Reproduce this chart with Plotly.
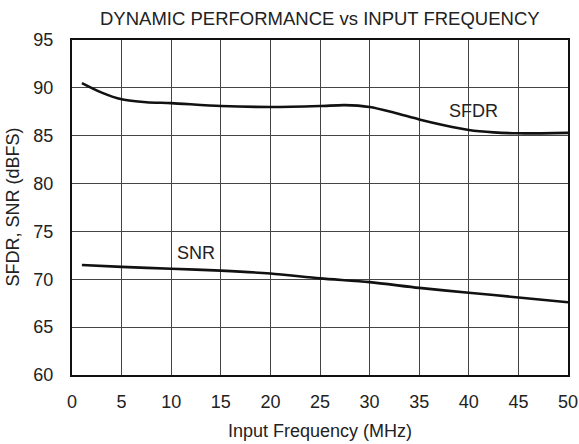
import plotly.graph_objects as go

freq = [1, 3, 5, 7.5, 10, 15, 20, 25, 27.5, 30, 32.5, 35, 37.5, 40, 42.5, 45, 50]
sfdr = [90.5, 89.5, 88.8, 88.5, 88.4, 88.1, 88.0, 88.1, 88.2, 88.0, 87.4, 86.7, 86.1, 85.6, 85.35, 85.25, 85.3]
snr_freq = [1, 5, 10, 15, 20, 25, 30, 35, 40, 45, 50]
snr = [71.5, 71.3, 71.1, 70.9, 70.6, 70.1, 69.7, 69.1, 68.6, 68.1, 67.6]

x_ticks = [0, 5, 10, 15, 20, 25, 30, 35, 40, 45, 50]
y_ticks = [60, 65, 70, 75, 80, 85, 90, 95]

FONT = "Liberation Sans, Arial, sans-serif"
FS = 18

fig = go.Figure()
fig.add_trace(go.Scatter(x=freq, y=sfdr, mode="lines", name="SFDR",
                         line=dict(color="#111111", width=2.6, shape="spline", smoothing=0.8)))
fig.add_trace(go.Scatter(x=snr_freq, y=snr, mode="lines", name="SNR",
                         line=dict(color="#111111", width=2.6, shape="spline", smoothing=0.8)))

fig.update_layout(
    width=579, height=444,
    margin=dict(l=72, r=11, t=40, b=69, autoexpand=False),
    paper_bgcolor="white", plot_bgcolor="white",
    showlegend=False,
    font=dict(family=FONT, size=FS, color="#222222"),
    xaxis=dict(range=[0, 50], tickvals=x_ticks, showgrid=True, gridcolor="#444444", gridwidth=1,
               showline=True, linecolor="#111111", linewidth=2, mirror=True, zeroline=False,
               automargin=False, ticks="", ticklabelstandoff=9, tickfont=dict(size=FS, family=FONT)),
    yaxis=dict(range=[60, 95], tickvals=y_ticks, showgrid=True, gridcolor="#444444", gridwidth=1,
               showline=True, linecolor="#111111", linewidth=2, mirror=True, zeroline=False,
               automargin=False, ticks="", ticklabelstandoff=13, tickfont=dict(size=FS, family=FONT)),
    annotations=[
        dict(text="DYNAMIC PERFORMANCE vs INPUT FREQUENCY", xref="paper", yref="paper",
             x=0.5, y=1.0, yshift=22, yanchor="middle", showarrow=False, font=dict(size=18.5, family=FONT)),
        dict(text="Input Frequency (MHz)", xref="paper", yref="paper", x=0.5, y=0, yshift=-56,
             yanchor="middle", showarrow=False, font=dict(size=FS, family=FONT)),
        dict(text="SFDR, SNR (dBFS)", xref="paper", yref="paper", x=0, y=0.5, xshift=-60,
             xanchor="center", yanchor="middle", textangle=-90, showarrow=False, font=dict(size=FS, family=FONT)),
        dict(text="SFDR", x=40.5, y=87.6, xref="x", yref="y", showarrow=False,
             font=dict(size=FS, family=FONT)),
        dict(text="SNR", x=12.5, y=72.7, xref="x", yref="y", showarrow=False,
             font=dict(size=FS, family=FONT)),
    ],
)

fig.write_html("out.html", config={"displayModeBar": False},
               post_script="document.body.style.margin='0';")
